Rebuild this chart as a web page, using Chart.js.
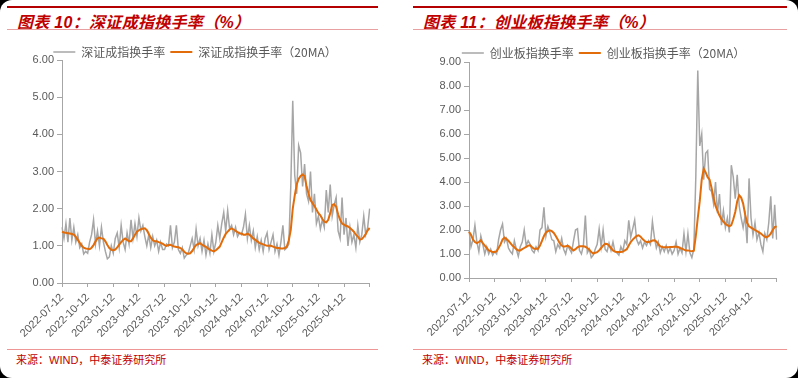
<!DOCTYPE html>
<html>
<head>
<meta charset="utf-8">
<script src="https://cdn.jsdelivr.net/npm/chart.js@4.4.1/dist/chart.umd.min.js"></script>
<style>
    html, body { margin: 0; padding: 0; background: #000; }
    #card { position: relative; width: 798px; height: 378px; background: #fff; border-radius: 12px; overflow: hidden; }
    .panel { position: absolute; top: 0; height: 378px; }
    .topline { position: absolute; left: 0; right: 0; top: 6px; height: 2px; background: #B40000; }
    .title { position: absolute; left: 10px; top: 9px; line-height: 21px; font: italic bold 16px "Liberation Sans", "Noto Sans CJK SC", sans-serif; letter-spacing: 0.3px; color: #C00000; white-space: nowrap; }
    .subline { position: absolute; left: 0; right: 0; top: 29px; height: 1px; background: #E8A0A0; }
    .chartbox { position: absolute; left: 0; top: 33px; height: 310px; }
    .srcline { position: absolute; left: 0; right: 0; top: 349px; height: 1px; background: #EE9595; }
    .source { position: absolute; left: 9px; top: 351px; line-height: 15px; font: 11px "Liberation Sans", "Noto Sans CJK SC", sans-serif; color: #C00000; white-space: nowrap; }
</style>
</head>
<body>
<div id="card">
    <div class="panel" style="left:7px;width:371px;">
        <div class="topline"></div>
        <div class="title">图表 10：深证成指换手率（%）</div>
        <div class="subline"></div>
        <div class="chartbox" style="right:-5px;"><canvas id="szChart"></canvas></div>
        <div class="srcline"></div>
        <div class="source">来源：WIND，中泰证券研究所</div>
    </div>
    <div class="panel" style="left:413px;width:374px;">
        <div class="topline"></div>
        <div class="title">图表 11：创业板指换手率（%）</div>
        <div class="subline"></div>
        <div class="chartbox" style="right:-7px;"><canvas id="cybChart"></canvas></div>
        <div class="srcline"></div>
        <div class="source">来源：WIND，中泰证券研究所</div>
    </div>
</div>

<script>
// quarter tick labels (one tick every 13 points, last tick has no label)
const quarterLabels = ["2022-07-12", "2022-10-12", "2023-01-12", "2023-04-12", "2023-07-12", "2023-10-12",
    "2024-01-12", "2024-04-12", "2024-07-12", "2024-10-12", "2025-01-12", "2025-04-12"];
const pointsPerQuarter = 13;

// 深证成指换手率 (%)
const szTurnover = [
    1.5, 1.2, 1.6, 1.1, 1.75, 1.15, 1.5, 1.1, 1.3, 0.95, 1.05, 0.78, 0.85,
    0.8, 1.1, 1.3, 1.7, 1.05, 1.4, 1.0, 1.5, 1.1, 0.85, 0.65, 0.7, 1.0,
    0.8, 1.2, 1.35, 0.95, 1.55, 1.1, 0.9, 1.35, 1.05, 1.7, 1.2, 1.6, 1.25,
    1.75, 1.4, 1.55, 1.25, 1.0, 1.3, 0.95, 1.25, 1.0, 1.15, 0.85, 1.1, 0.9,
    0.9, 1.05, 1.0, 1.55, 0.95, 1.1, 1.55, 0.9, 0.8, 0.95, 0.67, 0.75, 0.8,
    1.0, 1.2, 0.9, 1.45, 1.0, 1.2, 0.85, 1.15, 0.75, 1.05, 0.8, 1.3, 0.85,
    1.1, 1.55, 1.2, 1.6, 1.9, 1.4, 1.95, 1.45, 1.55, 1.3, 1.5, 1.25, 1.35,
    1.3, 1.5, 1.85, 1.2, 1.55, 1.15, 1.4, 0.95, 1.25, 0.9, 1.15, 0.85, 1.2,
    1.35, 0.9, 1.1, 1.3, 0.85, 1.05, 0.75, 1.1, 1.55, 0.9, 0.95, 1.05, 2.6,
    4.9, 2.9, 2.4, 3.7, 3.5, 2.6, 3.2, 2.4, 2.2, 3.0, 1.9, 2.4, 1.6,
    1.8, 1.45, 1.7, 1.5, 2.5, 1.9, 2.65, 1.8, 2.1, 2.3, 1.4, 1.2, 2.3,
    1.3, 1.75, 1.0, 1.5, 1.1, 1.3, 0.95, 1.55, 1.1, 1.3, 1.8, 1.3, 1.5, 2.0
];

// 深证成指换手率 (20MA)
const szTurnoverMA20 = [
    1.38, 1.36, 1.35, 1.34, 1.33, 1.32, 1.3, 1.24, 1.16, 1.08, 1.0, 0.95, 0.93,
    0.92, 0.91, 0.95, 1.02, 1.12, 1.2, 1.22, 1.2, 1.19, 1.12, 1.02, 0.94, 0.89,
    0.88, 0.9, 0.96, 1.03, 1.1, 1.16, 1.2, 1.16, 1.12, 1.12, 1.2, 1.3, 1.38,
    1.42, 1.45, 1.46, 1.47, 1.42, 1.32, 1.22, 1.15, 1.12, 1.12, 1.1, 1.08, 1.06,
    1.02, 1.0, 1.02, 1.03, 1.0, 0.98, 0.97, 0.96, 0.94, 0.9, 0.84, 0.8, 0.79,
    0.8, 0.86, 0.95, 1.02, 1.05, 1.07, 1.03, 1.0, 0.97, 0.93, 0.9, 0.87, 0.85,
    0.88, 0.93, 0.98, 1.1, 1.22, 1.32, 1.38, 1.44, 1.47, 1.44, 1.4, 1.37, 1.34,
    1.33, 1.3, 1.3, 1.33, 1.3, 1.25, 1.2, 1.16, 1.12, 1.08, 1.06, 1.04, 1.02,
    1.0, 1.0, 1.0, 0.98, 0.96, 0.94, 0.94, 0.93, 0.93, 0.94, 0.98, 1.15, 1.43,
    2.0, 2.35, 2.65, 2.8, 2.88, 2.92, 2.88, 2.6, 2.4, 2.23, 2.15, 2.07, 1.98,
    1.88, 1.82, 1.72, 1.65, 1.63, 1.7, 1.88, 2.1, 2.12, 2.05, 1.85, 1.7, 1.6,
    1.57, 1.54, 1.52, 1.48, 1.43, 1.38, 1.3, 1.25, 1.17, 1.18, 1.24, 1.32, 1.42, 1.48
];

// 创业板指换手率 (%)
const cybTurnover = [
    2.0, 1.3, 1.6, 2.2, 1.5, 1.1, 1.75, 1.4, 1.0, 1.3, 1.0, 1.2, 0.95,
    1.1, 1.0, 1.6, 2.0, 2.25, 1.5, 1.65, 1.25, 1.1, 1.0, 1.55, 1.2, 0.9,
    1.3, 1.5, 2.0, 1.35, 1.55, 1.4, 1.15, 1.05, 1.3, 1.15, 2.0, 2.1, 2.95,
    1.75, 2.15, 1.9, 1.6, 1.55, 1.1, 1.4, 1.25, 1.65, 1.2, 1.0, 1.35, 1.2,
    1.05, 1.55, 2.0, 2.05, 1.15, 1.0, 1.35, 2.6, 1.05, 1.2, 0.85, 0.95, 1.2,
    1.4, 2.05, 1.3, 2.0, 1.2, 1.1, 1.45, 1.15, 1.5, 1.1, 1.05, 0.95, 1.3,
    1.1, 1.55, 1.4, 2.4, 1.7, 2.05, 2.42, 1.6, 1.4, 1.55, 1.25, 1.5, 1.35,
    1.55, 1.4, 2.35, 1.7, 1.25, 1.5, 1.05, 1.3, 1.1, 1.35, 1.05, 1.25, 1.0,
    1.15, 1.5, 1.0, 1.25, 1.05, 1.85, 1.1, 1.85, 1.05, 0.85, 1.2, 4.2, 8.65,
    5.5, 6.0, 4.1, 5.2, 5.3, 3.7, 3.6, 3.1, 4.0, 2.7, 3.5, 2.2, 2.8,
    2.1, 2.5, 1.9, 4.7, 4.2, 3.3, 4.3, 3.0, 2.5, 2.1, 2.6, 1.45, 4.15,
    2.5, 1.8, 2.3, 1.6, 1.9, 1.4, 1.1, 1.85, 1.6, 2.3, 3.4, 1.65, 3.05, 1.6
];

// 创业板指换手率 (20MA)
const cybTurnoverMA20 = [
    1.92, 1.8, 1.6, 1.5, 1.45, 1.5, 1.57, 1.45, 1.35, 1.25, 1.15, 1.12, 1.08,
    1.08, 1.12, 1.25, 1.4, 1.6, 1.68, 1.62, 1.55, 1.45, 1.35, 1.28, 1.2, 1.15,
    1.15, 1.2, 1.25, 1.3, 1.35, 1.36, 1.28, 1.22, 1.22, 1.22, 1.35, 1.55, 1.75,
    1.9, 1.95, 1.99, 1.95, 1.88, 1.75, 1.6, 1.45, 1.35, 1.3, 1.32, 1.35, 1.3,
    1.22, 1.15, 1.2, 1.28, 1.32, 1.32, 1.32, 1.3, 1.25, 1.18, 1.08, 1.02, 1.05,
    1.08, 1.15, 1.25, 1.35, 1.43, 1.42, 1.35, 1.25, 1.15, 1.1, 1.08, 1.08, 1.08,
    1.1, 1.15, 1.2, 1.35, 1.5, 1.6, 1.68, 1.75, 1.78, 1.72, 1.62, 1.55, 1.5,
    1.5, 1.52, 1.56, 1.57, 1.52, 1.4, 1.32, 1.29, 1.28, 1.28, 1.28, 1.29, 1.29,
    1.3, 1.3, 1.29, 1.25, 1.22, 1.18, 1.15, 1.15, 1.13, 1.12, 1.14, 1.75, 2.5,
    3.2, 4.1, 4.55, 4.4, 4.2, 4.1, 3.75, 3.35, 3.0, 2.8, 2.6, 2.45, 2.35,
    2.25, 2.2, 2.15, 2.2, 2.45, 2.75, 3.2, 3.45, 3.35, 3.1, 2.65, 2.3, 2.15,
    2.1, 2.05, 2.0, 1.95, 1.9, 1.85, 1.78, 1.72, 1.7, 1.75, 1.85, 2.0, 2.12, 2.15
];

const GRAY = "#A6A6A6";
const ORANGE = "#E36C0A";
const AXIS = "#A6A6A6";
const TICK_TEXT = "#595959";

// category labels: date at each quarter tick, blank in between
const axisLabels = [];
for (let i = 0; i < szTurnover.length; i++) {
    axisLabels.push(i % pointsPerQuarter === 0 ? (quarterLabels[i / pointsPerQuarter] || "") : "");
}

// Chart.js always adds 10px under the legend; take some of it back
const tightLegend = {
    id: "tightLegend",
    afterInit(chart, args, opts) {
        const fit = chart.legend.fit;
        chart.legend.fit = function () {
            fit.call(this);
            this.height -= opts.trim || 0;
        };
    }
};

function renderTurnoverChart(canvasId, name, raw, ma, yMax, box) {
    const ctx = document.getElementById(canvasId).getContext("2d");

    return new Chart(ctx, {
        type: "line",
        data: {
            labels: axisLabels,
            datasets: [
                {
                    label: name + "（20MA）",
                    data: ma,
                    borderColor: ORANGE,
                    backgroundColor: ORANGE,
                    borderWidth: 2,
                    pointRadius: 0,
                    tension: 0
                },
                {
                    label: name,
                    data: raw,
                    borderColor: GRAY,
                    backgroundColor: GRAY,
                    borderWidth: 1.5,
                    pointRadius: 0,
                    tension: 0
                }
            ]
        },
        options: {
            responsive: true,
            maintainAspectRatio: false,
            animation: false,
            layout: { padding: { top: box.top, right: 0, left: 0, bottom: 0 } },
            plugins: {
                tightLegend: { trim: box.trim },
                tooltip: { enabled: false },
                legend: {
                    position: "top",
                    reverse: true,
                    labels: {
                        usePointStyle: true,
                        pointStyle: "line",
                        pointStyleWidth: 22,
                        padding: 5,
                        color: TICK_TEXT,
                        font: { family: "'Noto Sans CJK SC', sans-serif", size: 12 }
                    }
                }
            },
            scales: {
                x: {
                    type: "category",
                    offset: false,
                    afterFit: (scale) => { scale.height = box.xHeight; },
                    border: { display: true, color: AXIS, width: 1 },
                    grid: {
                        display: true,
                        drawOnChartArea: false,
                        drawTicks: true,
                        tickLength: 4,
                        color: "transparent",
                        tickColor: (c) => (c.index % pointsPerQuarter === 0 ? AXIS : "transparent")
                    },
                    ticks: {
                        autoSkip: false,
                        minRotation: 45,
                        maxRotation: 45,
                        padding: box.xPad,
                        color: TICK_TEXT,
                        font: { family: "'Liberation Sans', Arial, sans-serif", size: 11 }
                    }
                },
                y: {
                    min: 0,
                    max: yMax,
                    afterFit: (scale) => { scale.width = box.yWidth; },
                    border: { display: true, color: AXIS, width: 1 },
                    grid: {
                        display: true,
                        drawOnChartArea: false,
                        drawTicks: true,
                        tickLength: 5,
                        tickColor: AXIS
                    },
                    ticks: {
                        stepSize: 1,
                        padding: 3,
                        color: TICK_TEXT,
                        font: { family: "'Liberation Sans', Arial, sans-serif", size: 11 },
                        callback: (v) => v.toFixed(2)
                    }
                }
            }
        },
        plugins: [tightLegend]
    });
}

renderTurnoverChart("szChart", "深证成指换手率", szTurnover, szTurnoverMA20, 6,
    { top: 8, trim: 8, xHeight: 60, yWidth: 55, xPad: 4 });
renderTurnoverChart("cybChart", "创业板指换手率", cybTurnover, cybTurnoverMA20, 9,
    { top: 9, trim: 7, xHeight: 65, yWidth: 56, xPad: 8 });
</script>
</body>
</html>
